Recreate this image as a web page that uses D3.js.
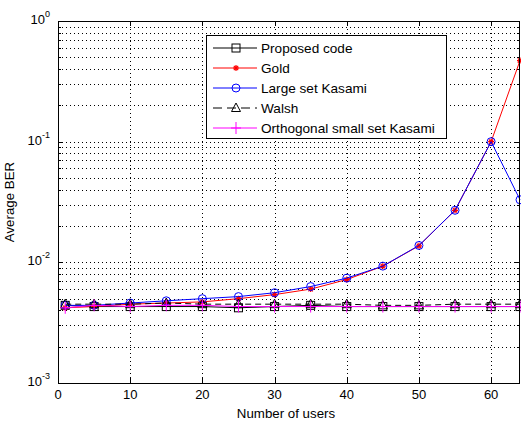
<!DOCTYPE html>
<html>
<head>
<meta charset="utf-8">
<script src="https://cdn.jsdelivr.net/npm/d3@7"></script>
<style>
  body { margin: 0; background: #fff; }
  svg { font-family: Arial, 'Liberation Sans', sans-serif; }
</style>
</head>
<body>
<svg id="chart" width="521" height="423"></svg>
<script>
// 数据
const users = [1, 5, 10, 15, 20, 25, 30, 35, 40, 45, 50, 55, 60, 64]
const proposedBER = [0.0044, 0.0043, 0.0043, 0.0043, 0.0043, 0.0042, 0.0043, 0.0044, 0.0043, 0.0043, 0.0043, 0.0043, 0.0043, 0.0043]
const goldBER = [0.0042, 0.0043, 0.0045, 0.0046, 0.0047, 0.0050, 0.0054, 0.0060, 0.0072, 0.0093, 0.0137, 0.027, 0.10, 0.47]
const kasamiBER = [0.0044, 0.0044, 0.0046, 0.0048, 0.0050, 0.0052, 0.0056, 0.0063, 0.0074, 0.0093, 0.0138, 0.027, 0.10, 0.033]
const walshBER = [0.0045, 0.0045, 0.0045, 0.0046, 0.0045, 0.0045, 0.0045, 0.0045, 0.0045, 0.0044, 0.0044, 0.0045, 0.0045, 0.0045]
const orthoBER = [0.0042, 0.0044, 0.0043, 0.0044, 0.0044, 0.0043, 0.0043, 0.0043, 0.0043, 0.0043, 0.0043, 0.0043, 0.0043, 0.0043]
const xTicks = [0, 10, 20, 30, 40, 50, 60]
const yExps = [-3, -2, -1, 0]

const series = [
  { name: 'Proposed code', values: proposedBER, color: '#000', marker: 'square', dash: null },
  { name: 'Gold', values: goldBER, color: '#f00', marker: 'star', dash: null },
  { name: 'Large set Kasami', values: kasamiBER, color: '#00f', marker: 'circle', dash: null },
  { name: 'Walsh', values: walshBER, color: '#000', marker: 'triangle', dash: '6,4' },
  { name: 'Orthogonal small set Kasami', values: orthoBER, color: '#f0f', marker: 'plus', dash: null },
]

const margin = { top: 21, right: 1, bottom: 40, left: 58 }
const W = 521, H = 423
const innerW = W - margin.left - margin.right
const innerH = H - margin.top - margin.bottom

const svg = d3.select('#chart')
const g = svg.append('g').attr('transform', `translate(${margin.left},${margin.top})`)

const x = d3.scaleLinear().domain([0, 64]).range([0, innerW])
const y = d3.scaleLog().domain([1e-3, 1]).range([innerH, 0])

// 次刻度
const minorVals = []
for (let e = -3; e < 0; e++) for (let k = 1; k <= 9; k++) minorVals.push(k * Math.pow(10, e))
minorVals.push(1)

// 网格线
const grid = g.append('g').attr('stroke', '#000').attr('stroke-width', 1).attr('stroke-dasharray', '1,3')
grid.selectAll('line.v').data(xTicks.filter(d => d > 0)).join('line')
  .attr('x1', d => Math.round(x(d)) + 0.5).attr('x2', d => Math.round(x(d)) + 0.5)
  .attr('y1', 0).attr('y2', innerH)
grid.selectAll('line.h').data(minorVals.filter(d => d > 1e-3 && d < 1)).join('line')
  .attr('y1', d => Math.round(y(d)) + 0.5).attr('y2', d => Math.round(y(d)) + 0.5)
  .attr('x1', 0).attr('x2', innerW)

// 刻度
const ticks = g.append('g').attr('stroke', '#000').attr('stroke-width', 1)
xTicks.forEach(d => {
  const px = Math.round(x(d)) + 0.5
  ticks.append('line').attr('x1', px).attr('x2', px).attr('y1', innerH).attr('y2', innerH - 5)
  ticks.append('line').attr('x1', px).attr('x2', px).attr('y1', 0).attr('y2', 5)
})
minorVals.forEach(d => {
  const py = Math.round(y(d)) + 0.5
  const major = Math.abs(Math.log10(d) - Math.round(Math.log10(d))) < 1e-9
  const len = major ? 5 : 3
  ticks.append('line').attr('y1', py).attr('y2', py).attr('x1', 0).attr('x2', len)
  ticks.append('line').attr('y1', py).attr('y2', py).attr('x1', innerW).attr('x2', innerW - len)
})

// 刻度文字
g.selectAll('text.xt').data(xTicks).join('text')
  .attr('x', d => x(d)).attr('y', innerH + 16)
  .attr('text-anchor', 'middle').attr('font-size', 13).attr('fill', '#000')
  .text(d => d)

const yt = g.selectAll('text.yt').data(yExps).join('text')
  .attr('x', -8).attr('y', d => y(Math.pow(10, d)) + 3)
  .attr('text-anchor', 'end').attr('font-size', 13).attr('fill', '#000')
yt.append('tspan').text('10')
yt.append('tspan').attr('dy', -7).attr('font-size', 9).text(d => d)

// 坐标轴标签
svg.append('text').attr('x', margin.left + innerW / 2 - 3).attr('y', 418)
  .attr('text-anchor', 'middle').attr('font-size', 13.3).text('Number of users')
svg.append('text').attr('transform', `translate(14,${margin.top + innerH / 2}) rotate(-90)`)
  .attr('text-anchor', 'middle').attr('font-size', 13.3).text('Average BER')

// 标记
function drawMarker(sel, type, color) {
  if (type === 'square') {
    sel.append('rect').attr('x', -4).attr('y', -4).attr('width', 8).attr('height', 8)
      .attr('fill', 'none').attr('stroke', color)
  } else if (type === 'circle') {
    sel.append('circle').attr('r', 4).attr('fill', 'none').attr('stroke', color)
  } else if (type === 'triangle') {
    sel.append('path').attr('d', 'M0,-5L4.5,3.5L-4.5,3.5Z').attr('fill', 'none').attr('stroke', color)
  } else if (type === 'plus') {
    sel.append('path').attr('d', 'M-5,0H5M0,-6V6').attr('stroke', color)
  } else if (type === 'star') {
    sel.append('path').attr('d', 'M-3,0H3M0,-3V3M-2.2,-2.2L2.2,2.2M-2.2,2.2L2.2,-2.2')
      .attr('stroke', color).attr('stroke-width', 1.2)
  }
}

const line = d3.line().x(d => x(d[0])).y(d => y(d[1]))
const plot = g.append('g')
series.forEach(s => {
  const pts = users.map((u, i) => [u, s.values[i]])
  plot.append('path').datum(pts).attr('d', line)
    .attr('fill', 'none').attr('stroke', s.color).attr('stroke-width', 1)
    .attr('stroke-dasharray', s.dash)
  pts.forEach(p => {
    const m = plot.append('g').attr('transform', `translate(${x(p[0])},${y(p[1])})`)
    drawMarker(m, s.marker, s.color)
  })
})

// 外框
g.append('rect').attr('x', 0.5).attr('y', 0.5).attr('width', innerW - 1).attr('height', innerH)
  .attr('fill', 'none').attr('stroke', '#000')

// 图例
const lg = svg.append('g').attr('transform', 'translate(206,35)')
lg.append('rect').attr('x', 0.5).attr('y', 0.5).attr('width', 240).attr('height', 103)
  .attr('fill', '#fff').attr('stroke', '#000')
series.forEach((s, i) => {
  const ry = 13 + i * 20
  const row = lg.append('g').attr('transform', `translate(0,${ry})`)
  row.append('line').attr('x1', 7).attr('x2', 51).attr('y1', 0).attr('y2', 0)
    .attr('stroke', s.color).attr('stroke-dasharray', s.dash ? '9,5' : null)
  drawMarker(row.append('g').attr('transform', 'translate(30,0)'), s.marker, s.color)
  row.append('text').attr('x', 55).attr('y', 5).attr('font-size', 13.6).text(s.name)
})
</script>
</body>
</html>
